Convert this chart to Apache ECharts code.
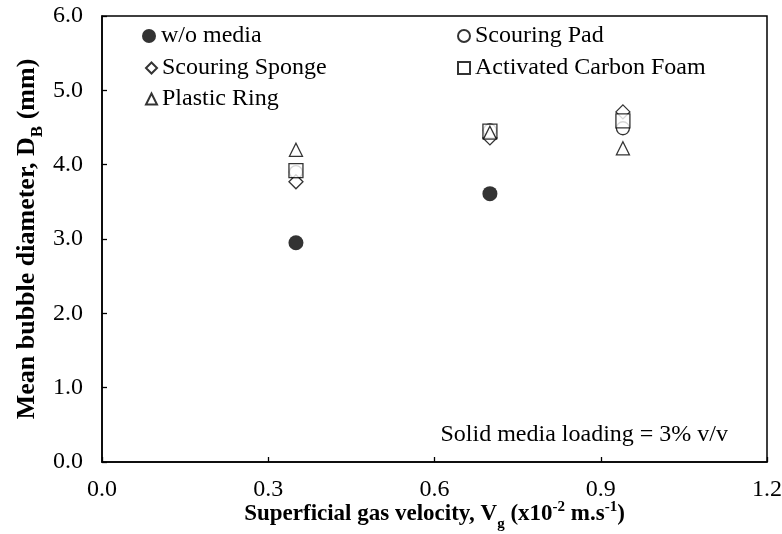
<!DOCTYPE html>
<html>
<head>
<meta charset="utf-8">
<script src="https://cdn.jsdelivr.net/npm/echarts@6/dist/echarts.min.js"></script>
<style>
  html, body { margin: 0; padding: 0; background: #fff; }
  #chart { width: 782px; height: 534px; }
</style>
</head>
<body>
<div id="chart"></div>
<script>
// Superficial gas velocity (x10^-2 m/s)
const velocities = [0.35, 0.70, 0.94];
// Mean bubble diameter D_B (mm) for each configuration
const withoutMedia = [2.95, 3.61, null];
const scouringPad = [3.90, 4.46, 4.49];
const scouringSponge = [3.77, 4.36, 4.71];
const activatedCarbonFoam = [3.92, 4.45, 4.59];
const plasticRing = [4.20, 4.43, 4.22];

const xTicks = { min: 0, max: 1.2, step: 0.3 };
const yTicks = { min: 0, max: 6, step: 1 };

const FONT = '"Liberation Serif", "Times New Roman", serif';

function pairs(ys) {
  return velocities.map((x, i) => [x, ys[i]]).filter(p => p[1] != null);
}

const hollow = { color: '#fff', borderColor: '#000', borderWidth: 1.3 };

const seriesDefs = [
  { name: 'w/o media', data: withoutMedia, symbol: 'circle', size: 15,
    style: { color: '#000', borderColor: '#000', borderWidth: 0 } },
  { name: 'Scouring Pad', data: scouringPad, symbol: 'circle', size: 13, style: hollow },
  { name: 'Scouring Sponge', data: scouringSponge, symbol: 'diamond', size: [14, 14], style: hollow },
  { name: 'Activated Carbon Foam', data: activatedCarbonFoam, symbol: 'rect', size: 14, style: hollow },
  { name: 'Plastic Ring', data: plasticRing, symbol: 'triangle', size: [13, 13], style: hollow }
];

// legend entries laid out in two columns
const legendSpots = [
  { name: 'w/o media', left: 142, top: 24, w: 14, h: 14 },
  { name: 'Scouring Pad', left: 457, top: 24, w: 12, h: 12 },
  { name: 'Scouring Sponge', left: 145, top: 56, w: 11, h: 11 },
  { name: 'Activated Carbon Foam', left: 457, top: 56, w: 12, h: 12 },
  { name: 'Plastic Ring', left: 145, top: 87, w: 11, h: 11 }
];

const chart = echarts.init(document.getElementById('chart'), null, { renderer: 'canvas' });

const option = {
  animation: false,
  backgroundColor: '#fff',
  textStyle: { fontFamily: FONT, color: '#000' },
  grid: {
    left: 102, top: 16, right: 15, bottom: 72,
    outerBoundsMode: 'none',
    containLabel: false,
    show: true, borderColor: '#000', borderWidth: 1.5, backgroundColor: 'transparent'
  },
  legend: legendSpots.map(l => ({
    data: [l.name],
    left: l.left, top: l.top,
    padding: 0,
    itemWidth: l.w, itemHeight: l.h,
    selectedMode: false,
    textStyle: { fontFamily: FONT, fontSize: 24, color: '#000' }
  })),
  xAxis: {
    type: 'value',
    min: xTicks.min, max: xTicks.max, interval: xTicks.step,
    axisLine: { lineStyle: { color: '#000', width: 1.5 } },
    axisTick: { inside: true, length: 5, lineStyle: { color: '#000', width: 1.3 } },
    splitLine: { show: false },
    axisLabel: {
      margin: 16, fontFamily: FONT, fontSize: 24, color: '#000',
      formatter: v => v.toFixed(1)
    },
    name: '{b|Superficial gas velocity, V}{bs|g}{b| (x10}{bp|-2}{b| m.s}{bp|-1}{b|)}',
    nameLocation: 'middle',
    nameGap: 38,
    nameMoveOverlap: false,
    nameTextStyle: {
      rich: {
        b: { fontFamily: FONT, fontSize: 23, fontWeight: 'bold', color: '#000', lineHeight: 28, verticalAlign: 'middle' },
        bs: { fontFamily: FONT, fontSize: 15, fontWeight: 'bold', color: '#000', lineHeight: 15, verticalAlign: 'bottom', padding: [0, 0, -4, 0] },
        bp: { fontFamily: FONT, fontSize: 15, fontWeight: 'bold', color: '#000', lineHeight: 15, verticalAlign: 'top' }
      }
    }
  },
  yAxis: {
    type: 'value',
    min: yTicks.min, max: yTicks.max, interval: yTicks.step,
    axisLine: { lineStyle: { color: '#000', width: 1.5 } },
    axisTick: { inside: true, length: 5, lineStyle: { color: '#000', width: 1.3 } },
    splitLine: { show: false },
    axisLabel: {
      margin: 19, fontFamily: FONT, fontSize: 24, color: '#000',
      formatter: v => v.toFixed(1)
    },
    name: '{b|Mean bubble diameter, D}{bs|B}{b| (mm)}',
    nameLocation: 'middle',
    nameRotate: 90,
    nameGap: 60,
    nameMoveOverlap: false,
    nameTextStyle: {
      rich: {
        b: { fontFamily: FONT, fontSize: 26, fontWeight: 'bold', color: '#000', lineHeight: 30, verticalAlign: 'middle' },
        bs: { fontFamily: FONT, fontSize: 17, fontWeight: 'bold', color: '#000', lineHeight: 17, verticalAlign: 'bottom', padding: [0, 0, -4, 0] }
      }
    }
  },
  graphic: [{
    type: 'text',
    right: 54, top: 423,
    style: { text: 'Solid media loading = 3% v/v', font: '24px ' + FONT, fill: '#000' }
  }],
  series: seriesDefs.map(s => ({
    name: s.name,
    type: 'scatter',
    data: pairs(s.data),
    symbol: s.symbol,
    symbolSize: s.size,
    itemStyle: s.style
  }))
};

chart.setOption(option);
</script>
</body>
</html>
